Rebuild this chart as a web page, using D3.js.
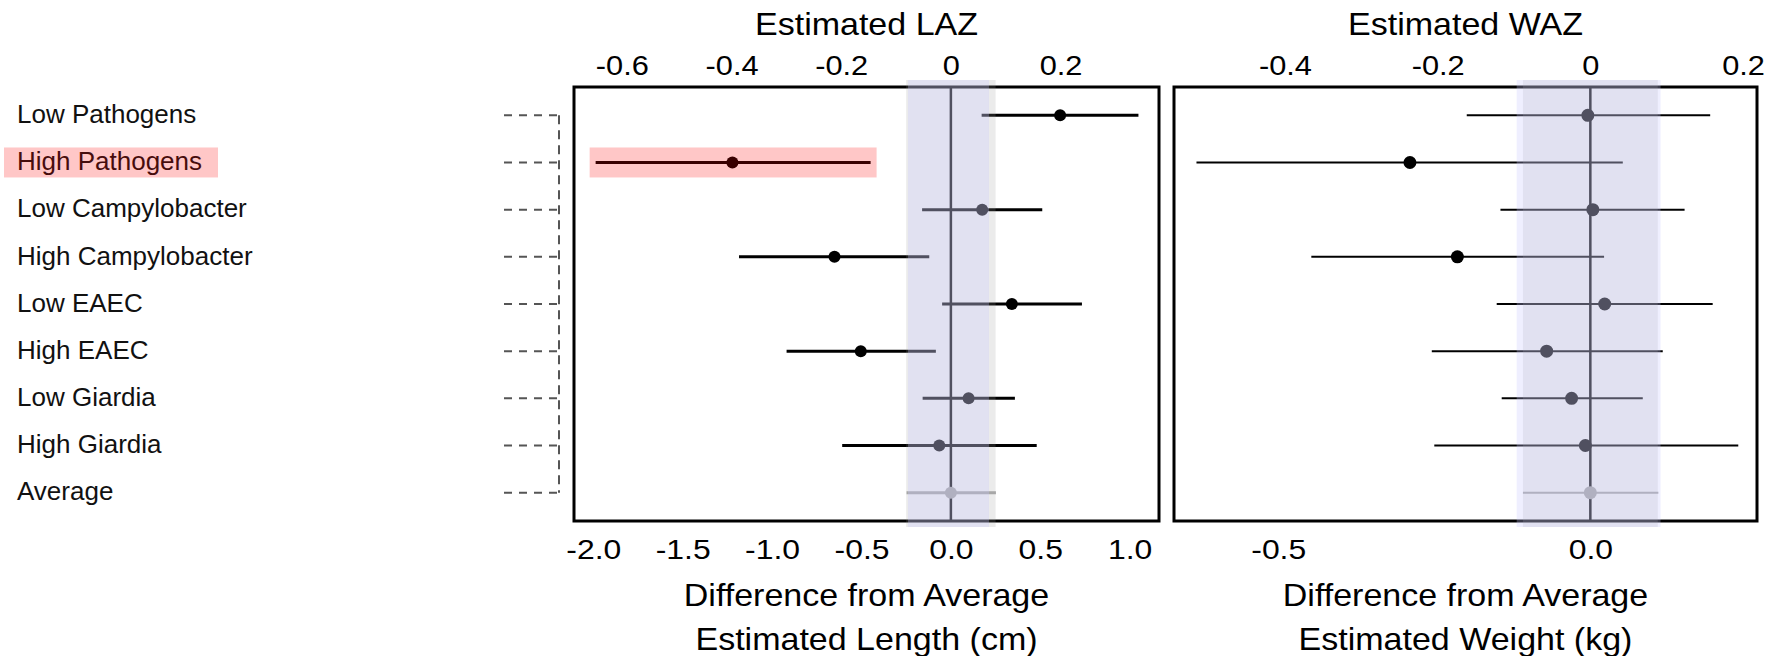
<!DOCTYPE html>
<html>
<head>
<meta charset="utf-8">
<script src="https://cdn.jsdelivr.net/npm/d3@7"></script>
<style>
body { margin: 0; background: #fff; }
text { font-family: "Liberation Sans", Arial, Helvetica, sans-serif; }
</style>
</head>
<body>
<svg id="chart" width="1779" height="656"></svg>
<script>
// rows of the forest plot, top to bottom
var categories = ["Low Pathogens", "High Pathogens", "Low Campylobacter", "High Campylobacter",
    "Low EAEC", "High EAEC", "Low Giardia", "High Giardia", "Average"];

// difference from average estimated length (cm): estimate + interval
var lengthEst = [0.611, -1.222, 0.175, -0.651, 0.341, -0.504, 0.099, -0.065, 0];
var lengthLo  = [0.172, -1.987, -0.161, -1.185, -0.049, -0.919, -0.158, -0.608, -0.248];
var lengthHi  = [1.049, -0.449, 0.511, -0.121, 0.733, -0.084, 0.358, 0.480, 0.252];

// difference from average estimated weight (kg)
var weightEst = [-0.004, -0.289, 0.004, -0.213, 0.023, -0.070, -0.030, -0.008, 0];
var weightLo  = [-0.198, -0.631, -0.144, -0.447, -0.150, -0.254, -0.142, -0.250, -0.108];
var weightHi  = [0.192, 0.052, 0.151, 0.022, 0.196, 0.116, 0.084, 0.237, 0.109];

// shaded bands: the average interval (grey) and the reference band (lavender)
var lengthAvgBand = [-0.25, 0.25];
var lengthRefBand = [-0.24, 0.213];
var weightAvgBand = [-0.108, 0.108];
var weightRefBand = [-0.118, 0.1125];

// axis ranges, z-score conversions and tick labels
var lengthDomain = [-2.108, 1.164];
var weightDomain = [-0.667, 0.267];
var cmPerLAZ = 3.067;
var kgPerWAZ = 1.223;
var lengthTicks = [-2, -1.5, -1, -0.5, 0, 0.5, 1];
var lazTicks = [-0.6, -0.4, -0.2, 0, 0.2];
var weightTicks = [-0.5, 0];
var wazTicks = [-0.4, -0.2, 0, 0.2];

var highlighted = "High Pathogens";

var svg = d3.select("#chart");
var plotTop = 87, plotBottom = 521;

// shared row scale
var y = d3.scalePoint().domain(categories).range([plotTop, plotBottom]).padding(0.6);

var fmt1 = function(d) { return d3.format(".1f")(d).replace("\u2212", "-"); };
var fmtZ = function(d) { return d === 0 ? "0" : fmt1(d); };

// row labels on the left
var labels = svg.append("g");
labels.selectAll("text").data(categories).enter().append("text")
    .attr("x", 17).attr("y", d => y(d)).attr("dy", "0.3em")
    .attr("font-size", 26).attr("fill", "#111")
    .text(d => d);

// dashed bracket joining the rows
var bracket = svg.append("g").attr("stroke", "#555").attr("stroke-width", 2);
bracket.selectAll("line.h").data(categories).enter().append("line")
    .attr("class", "h")
    .attr("stroke-dasharray", "8,7")
    .attr("x1", 504).attr("x2", 559).attr("y1", d => y(d)).attr("y2", d => y(d));
bracket.append("line")
    .attr("stroke-dasharray", "9,6")
    .attr("x1", 559).attr("x2", 559)
    .attr("y1", y(categories[0])).attr("y2", y(categories[categories.length - 1]));

// highlight over the label
labels.append("rect")
    .attr("x", 4).attr("width", 214)
    .attr("y", y(highlighted) - 15).attr("height", 30)
    .attr("fill", "red").attr("opacity", 0.22);

drawPanel({
    x0: 574, x1: 1159, domain: lengthDomain,
    est: lengthEst, lo: lengthLo, hi: lengthHi,
    avgBand: lengthAvgBand, refBand: lengthRefBand,
    ticks: lengthTicks, zTicks: lazTicks, perZ: cmPerLAZ,
    lineW: 3, r: 6, highlight: true,
    topTitle: "Estimated LAZ",
    bottomTitle: ["Difference from Average", "Estimated Length (cm)"]
});

drawPanel({
    x0: 1174, x1: 1757, domain: weightDomain,
    est: weightEst, lo: weightLo, hi: weightHi,
    avgBand: weightAvgBand, refBand: weightRefBand,
    ticks: weightTicks, zTicks: wazTicks, perZ: kgPerWAZ,
    lineW: 2, r: 6.5, highlight: false,
    topTitle: "Estimated WAZ",
    bottomTitle: ["Difference from Average", "Estimated Weight (kg)"]
});

function drawPanel(p) {
    var g = svg.append("g");
    var x = d3.scaleLinear().domain(p.domain).range([p.x0, p.x1]);
    // z-score axis on top shares the pixel range, just rescaled units
    var xz = d3.scaleLinear().domain(p.domain.map(v => v / p.perZ)).range([p.x0, p.x1]);
    var cx = (p.x0 + p.x1) / 2;

    g.append("rect")
        .attr("x", p.x0).attr("y", plotTop)
        .attr("width", p.x1 - p.x0).attr("height", plotBottom - plotTop)
        .attr("fill", "#fff").attr("stroke", "#000").attr("stroke-width", 3);

    g.append("line")
        .attr("x1", x(0)).attr("x2", x(0)).attr("y1", plotTop).attr("y2", plotBottom)
        .attr("stroke", "#000").attr("stroke-width", 2.5);

    var rows = categories.map((c, i) => ({cat: c, est: p.est[i], lo: p.lo[i], hi: p.hi[i]}));
    var col = d => d.cat === "Average" ? "#aaa" : "#000";

    g.selectAll("line.ci").data(rows).enter().append("line")
        .attr("class", "ci")
        .attr("x1", d => x(d.lo)).attr("x2", d => x(d.hi))
        .attr("y1", d => y(d.cat)).attr("y2", d => y(d.cat))
        .attr("stroke", col).attr("stroke-width", p.lineW);

    g.selectAll("circle").data(rows).enter().append("circle")
        .attr("cx", d => x(d.est)).attr("cy", d => y(d.cat)).attr("r", p.r)
        .attr("fill", col);

    // translucent bands sit on top of the marks
    g.append("rect")
        .attr("x", x(p.avgBand[0])).attr("width", x(p.avgBand[1]) - x(p.avgBand[0]))
        .attr("y", plotTop - 7).attr("height", plotBottom - plotTop + 13)
        .attr("fill", "#999").attr("opacity", 0.2);
    g.append("rect")
        .attr("x", x(p.refBand[0])).attr("width", x(p.refBand[1]) - x(p.refBand[0]))
        .attr("y", plotTop - 7).attr("height", plotBottom - plotTop + 13)
        .attr("fill", "#c8c8ff").attr("opacity", 0.29);

    if (p.highlight) {
        var h = rows.find(d => d.cat === highlighted);
        g.append("rect")
            .attr("x", x(h.lo) - 6).attr("width", x(h.hi) - x(h.lo) + 12)
            .attr("y", y(h.cat) - 15).attr("height", 30)
            .attr("fill", "red").attr("opacity", 0.22);
    }

    // axes (labels only, no tick marks)
    var topAxis = g.append("g").attr("transform", `translate(0,${plotTop})`)
        .call(d3.axisTop(xz).tickValues(p.zTicks).tickFormat(fmtZ).tickSize(0).tickPadding(12));
    var botAxis = g.append("g").attr("transform", `translate(0,${plotBottom})`)
        .call(d3.axisBottom(x).tickValues(p.ticks).tickFormat(fmt1).tickSize(0).tickPadding(18));
    [topAxis, botAxis].forEach(a => {
        a.select(".domain").remove();
        a.selectAll("text").attr("font-size", 27).attr("fill", "#000")
            .attr("font-family", "Liberation Sans, Arial, sans-serif")
            .attr("transform", "scale(1.14,1)");
    });
    botAxis.selectAll("text").attr("font-size", 28);

    g.append("text")
        .attr("transform", `translate(${cx},35) scale(1.08,1)`)
        .attr("text-anchor", "middle").attr("font-size", 31.5).attr("fill", "#000")
        .text(p.topTitle);

    g.selectAll("text.btitle").data(p.bottomTitle).enter().append("text")
        .attr("class", "btitle")
        .attr("transform", (d, i) => `translate(${cx},${606 + i * 44}) scale(1.08,1)`)
        .attr("text-anchor", "middle").attr("font-size", 31.5).attr("fill", "#000")
        .text(d => d);
}
</script>
</body>
</html>
